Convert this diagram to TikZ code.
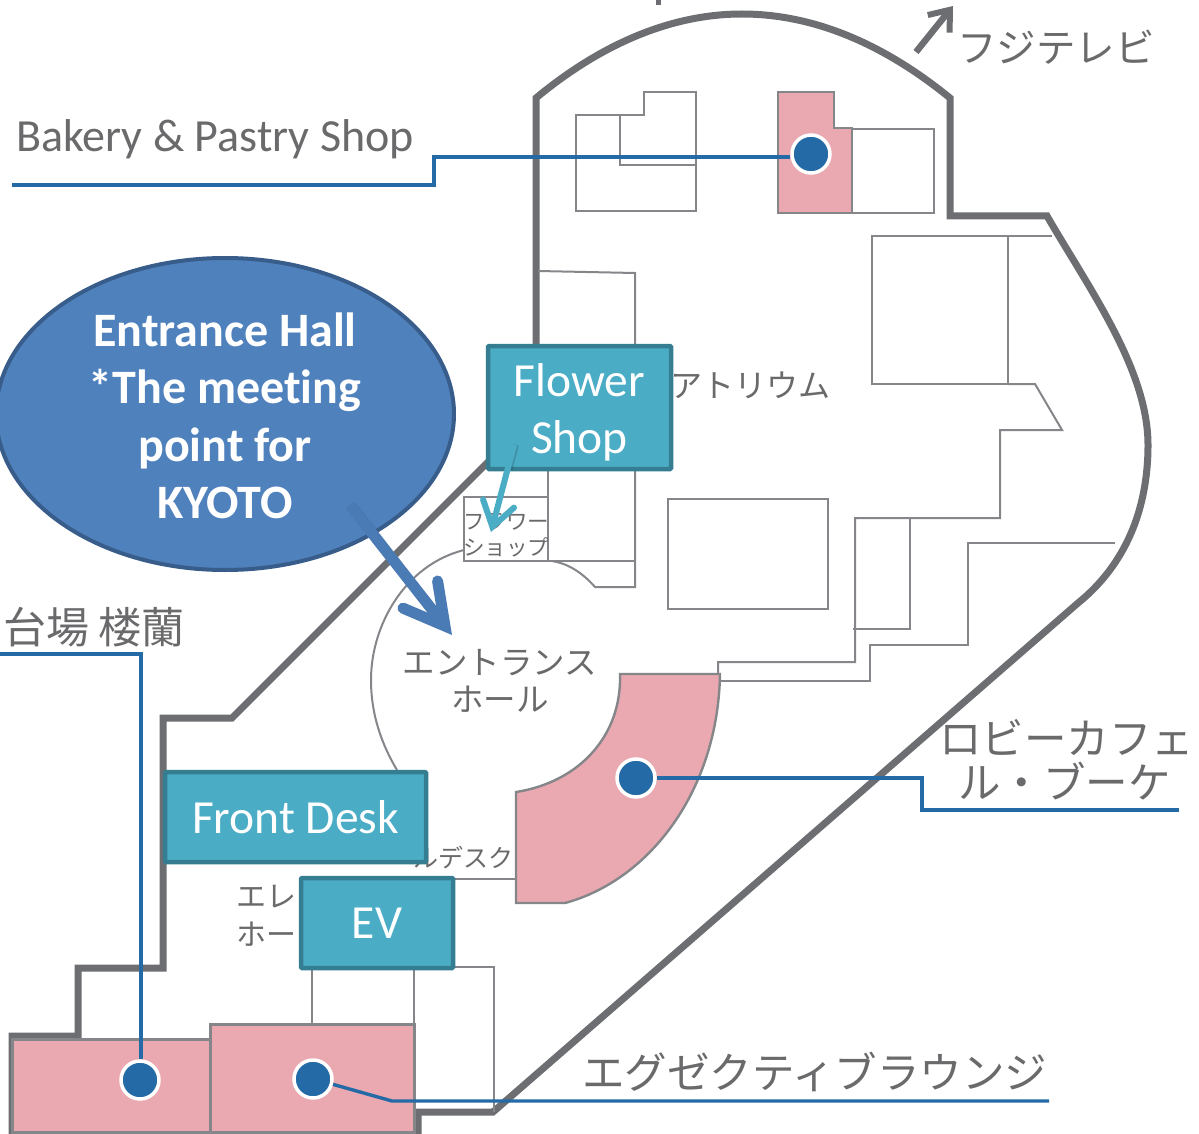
\documentclass[tikz,border=0pt]{standalone}
\usepackage{fontspec}
\setmainfont{Carlito}[Ligatures=NoCommon]
\newfontfamily\jpfont{Noto Sans CJK JP}
\usetikzlibrary{arrows.meta,shapes.geometric,calc}
\definecolor{wallc}{HTML}{6D6E71}
\definecolor{thinc}{HTML}{85868A}
\definecolor{pinkc}{HTML}{EAA9B1}
\definecolor{bluec}{HTML}{236AA6}
\definecolor{tealc}{HTML}{4BACC6}
\definecolor{tealb}{HTML}{357D91}
\definecolor{ellf}{HTML}{4F81BD}
\definecolor{ellb}{HTML}{385D8A}
\definecolor{txtc}{HTML}{6A6A6C}
\tikzset{
  wall/.style={draw=wallc,line width=7pt,line join=miter},
  room/.style={draw=thinc,line width=2pt},
  pinkroom/.style={fill=pinkc,draw=thinc,line width=2.4pt},
  leader/.style={draw=bluec,line width=3.4pt},
  dot/.style={circle,fill=bluec,draw=white,line width=3.5pt,minimum size=38pt,inner sep=0pt},
  tealbox/.style={rectangle,fill=tealc,draw=tealb,line width=4.5pt,rounded corners=1pt,text=white,font=\fontsize{47.5}{57}\selectfont,align=center,inner sep=0pt},
  jp/.style={text=txtc,inner sep=0pt,align=center},
}
\begin{document}
\begin{tikzpicture}[x=1pt,y=-1pt]
\useasboundingbox (0,0) rectangle (1199,1134);
\fill[white] (0,0) rectangle (1199,1134);
% walls
\draw[wall] (536,350) -- (536,98) .. controls (600,45) and (670,14) .. (742,14) .. controls (815,14) and (885,45) .. (950,98)
  -- (950,216) -- (1047,216) .. controls (1090,290) and (1148,370) .. (1148,445) .. controls (1148,510) and (1125,565) .. (1078,603)
  -- (493,1112) -- (418,1112) -- (418,1134);
\draw[wall] (495,455) -- (232,718) -- (163,718) -- (163,968) -- (78,968) -- (78,1036) -- (12,1036) -- (12,1134);
\draw[wall,line width=5pt] (658,0) -- (658,5);
% rooms
\draw[room] (576,115) -- (644,115) -- (644,92) -- (696,92) -- (696,211) -- (576,211) -- cycle;
\draw[room] (620,115) -- (620,165) -- (696,165);
\draw[room] (852,129) rectangle (934,213);
\draw[room] (872,236) rectangle (1008,384);
\draw[room] (1008,236) -- (1052,236);
\draw[room] (1008,384) -- (1035,384) -- (1062,430) -- (1000,430) -- (1000,518) -- (855,518) -- (855,662) -- (718,662) -- (718,676);
\draw[room] (910,518) -- (910,629) -- (853,629);
\draw[room] (720,681) -- (870,681) -- (870,645) -- (968,645) -- (968,543) -- (1115,543);
\draw[room] (668,499) rectangle (828,609);
\draw[room] (538,271) -- (635,273) -- (635,350);
\draw[room] (635,465) -- (635,587) -- (595,587) .. controls (580,570) and (565,563) .. (552,561);
\draw[room] (548,465) -- (548,561) -- (635,561);
\draw[room] (464,497) rectangle (548,561);
\draw[room] (464,550) .. controls (405,565) and (371,625) .. (371,680) .. controls (371,715) and (382,745) .. (397,770);
\draw[room] (312,960) -- (312,1026);
\draw[room] (414,960) -- (414,1026);
\draw[room] (450,967) -- (494,967) -- (494,1112);
\draw[room] (440,879) -- (518,879);
% pink
\draw[pinkroom] (778,92) -- (834,92) -- (834,128) -- (852,128) -- (852,213) -- (778,213) -- cycle;
\draw[pinkroom] (620,674) -- (720,674) .. controls (718,790) and (650,880) .. (565,903) -- (516,903) -- (516,792) .. controls (580,782) and (622,735) .. (620,674) -- cycle;
\draw[pinkroom,line width=3pt] (12,1039) rectangle (210,1132);
\draw[pinkroom,line width=3pt] (210,1024) rectangle (414,1132);
% texts
\node[text=txtc,inner sep=0pt,anchor=west,font=\fontsize{46}{50}\selectfont] (bakery) at (16,139) {Bakery \& Pastry Shop};
\node[jp,font=\jpfont\fontsize{39.5}{39.5}\selectfont] (fuji) at (1056,47) {フジテレビ};
\node[jp,font=\jpfont\fontsize{43}{43}\selectfont,anchor=west] (rouran) at (3,627) {台場 楼蘭};
\node[jp,font=\jpfont\fontsize{32}{32}\selectfont] (atrium) at (750,385) {アトリウム};
\node[jp,font=\jpfont\fontsize{21.5}{26}\selectfont] (flower) at (506,535) {フラワー\\ショップ};
\node[jp,font=\jpfont\fontsize{32.5}{37}\selectfont] (ent) at (500,681) {エントランス\\ホール};
\node[jp,font=\jpfont\fontsize{42.5}{45}\selectfont,anchor=west] (cafe1) at (939,738) {ロビーカフェ};
\node[jp,font=\jpfont\fontsize{42.5}{45}\selectfont,anchor=west] (cafe2) at (958,781) {ル・ブーケ};
\node[jp,font=\jpfont\fontsize{25}{25}\selectfont,anchor=east] (desk) at (514,858) {ルデスク};
\node[jp,font=\jpfont\fontsize{30}{38}\selectfont,anchor=west,align=left] (elev) at (236,916) {エレ\\ホー};
\node[jp,font=\jpfont\fontsize{42.5}{42.5}\selectfont,anchor=west] (exec) at (582,1072) {エグゼクティブラウンジ};
% arrow to Fuji TV
\coordinate (fa) at (916,52);
\coordinate (fb) at (953,6);
\draw[draw=wallc,line width=6.5pt,-{Straight Barb[length=18pt,width=28pt,line width=6pt]}] (fa) -- (fb);
% dots and leaders
\node[dot] (d1) at (811,154) {};
\node[dot] (d2) at (636,778) {};
\node[dot] (d3) at (140,1080) {};
\node[dot] (d4) at (313,1079) {};
\coordinate (b1) at (12,185); \coordinate (b2) at (434,185); \coordinate (b3) at (434,157);
\coordinate (c1) at (922,778); \coordinate (c2) at (922,810); \coordinate (c3) at (1179,810);
\coordinate (r1) at (0,654); \coordinate (r2) at (141,654);
\coordinate (e1) at (392,1101); \coordinate (e2) at (1049,1101);
\draw[leader] (b1) -- (b2) -- (b3) -- (d1.west |- b3);
\draw[leader] (d2.east) -- (c1) -- (c2) -- (c3);
\draw[leader] (r1) -- (r2) -- (d3.north -| r2);
\draw[leader] (d4.-15) -- (e1) -- (e2);
% boxes
\node[tealbox,minimum width=183pt,minimum height=123pt] (fs) at (579.5,407.5) {\rule{0pt}{43pt}Flower\\Shop};
\node[tealbox,minimum width=261pt,minimum height=90pt] (fd) at (295.5,817) {Front Desk};
\node[tealbox,minimum width=152pt,minimum height=90pt] (ev) at (377,923) {EV};
\node[ellipse,fill=ellf,draw=ellb,line width=4pt,minimum width=458pt,minimum height=312pt,inner sep=0pt,text=white,align=center,font=\bfseries\fontsize{48}{57.5}\selectfont] (hall) at (225,414) {\rule{0pt}{37pt}Entrance Hall\\*The meeting\\point for\\KYOTO};
% callout arrows
\coordinate (ha) at (350,505); \coordinate (hb) at (452,635);
\coordinate (hm) at ($(ha)!.3!(hb)$);
\draw[draw=black,opacity=.12,line width=11pt] ([xshift=2pt,yshift=-2pt]ha) -- ([xshift=2pt,yshift=-2pt]hm);
\draw[draw=ellf!95!black,line width=11pt,-{Straight Barb[length=40pt,width=44pt,line width=11pt,line cap=round,line join=miter]}] (ha) -- (hb);
\coordinate (sa) at (514,445); \coordinate (sb) at (491,532);
\coordinate (sm) at ($(sa)!.28!(sb)$);
\draw[draw=black,opacity=.15,line width=6pt] ([xshift=2pt]sa) -- ([xshift=2pt]sm);
\draw[draw=tealc,line width=6pt,-{Straight Barb[length=24pt,width=32pt,line width=6pt,line cap=round,line join=miter]}] (sa) -- (sb);
\end{tikzpicture}
\end{document}
